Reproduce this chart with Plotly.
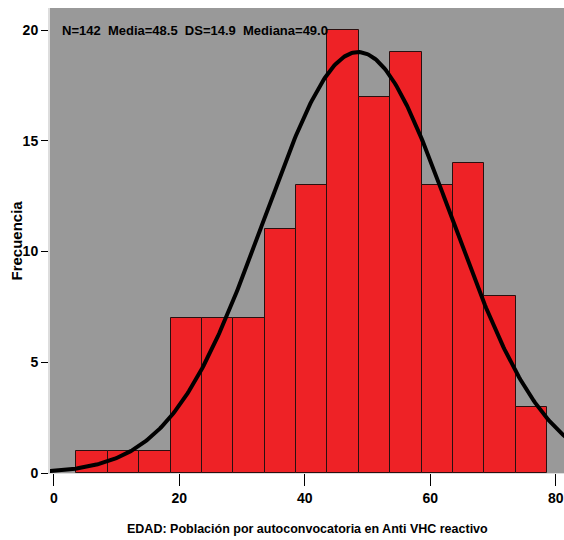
import numpy as np
import plotly.graph_objects as go

# Data
counts = [1, 1, 1, 7, 7, 7, 11, 13, 20, 17, 19, 13, 14, 8, 3]
bin_start = 3.6
bin_width = 5.0
n_total = 142
mean_age = 48.5
sd_age = 14.9
median_age = 49.0
x_ticks = [0, 20, 40, 60, 80]
y_ticks = [0, 5, 10, 15, 20]

centers = [bin_start + bin_width * (i + 0.5) for i in range(len(counts))]

xs = np.linspace(-1, 83, 400)
ys = n_total * bin_width / (sd_age * np.sqrt(2 * np.pi)) * np.exp(-0.5 * ((xs - mean_age) / sd_age) ** 2)

FONT = "Liberation Sans, Arial, sans-serif"

fig = go.Figure()
fig.add_trace(go.Bar(
    x=centers, y=counts, width=bin_width,
    marker=dict(color="#EE2226", line=dict(color="#2a1010", width=1)),
    hoverinfo="x+y",
))
fig.add_trace(go.Scatter(
    x=xs, y=ys, mode="lines",
    line=dict(color="black", width=4),
    hoverinfo="skip",
))

fig.add_annotation(
    xref="paper", yref="y", x=0.02, y=20,
    text=f"N={n_total}  Media={mean_age}  DS={sd_age}  Mediana={median_age}",
    showarrow=False, xanchor="left", yanchor="middle",
    font=dict(family=FONT, size=13, color="black", weight="bold"),
)
# axis titles as annotations for exact placement
fig.add_annotation(
    xref="paper", yref="paper", x=0.5, y=-0.12,
    text="EDAD: Población por autoconvocatoria en Anti VHC reactivo",
    showarrow=False, xanchor="center", yanchor="middle",
    font=dict(family=FONT, size=12.5, color="black", weight="bold"),
)
fig.add_annotation(
    xref="paper", yref="paper", x=0, y=0.5, xshift=-34,
    text="Frecuencia", textangle=-90,
    showarrow=False, xanchor="center", yanchor="middle",
    font=dict(family=FONT, size=15, color="black", weight="bold"),
)

fig.update_layout(
    width=564, height=540,
    margin=dict(l=50, r=0, t=8, b=67),
    paper_bgcolor="white",
    plot_bgcolor="#999999",
    showlegend=False,
    bargap=0,
    font=dict(family=FONT, size=14, color="black"),
    xaxis=dict(
        range=[-0.6, 81.3],
        tickvals=x_ticks,
        automargin=False,
        ticks="outside", ticklen=12, tickwidth=1.2, tickcolor="black",
        showgrid=False, zeroline=False,
        showline=True, linecolor="#dddddd", linewidth=1,
        tickfont=dict(family=FONT, size=14, color="black", weight="bold"),
    ),
    yaxis=dict(
        range=[0, 21.0],
        tickvals=y_ticks,
        automargin=False,
        ticks="outside", ticklen=7, tickwidth=1.2, tickcolor="black",
        showgrid=False, zeroline=False,
        showline=True, linecolor="#dddddd", linewidth=2,
        tickfont=dict(family=FONT, size=14, color="black", weight="bold"),
    ),
)

# remove the browser's default body margin so the figure fills the window
fig.write_html(
    "out.html",
    config={"displayModeBar": False},
    post_script="document.body.style.margin='0';document.body.style.overflow='hidden';",
)
